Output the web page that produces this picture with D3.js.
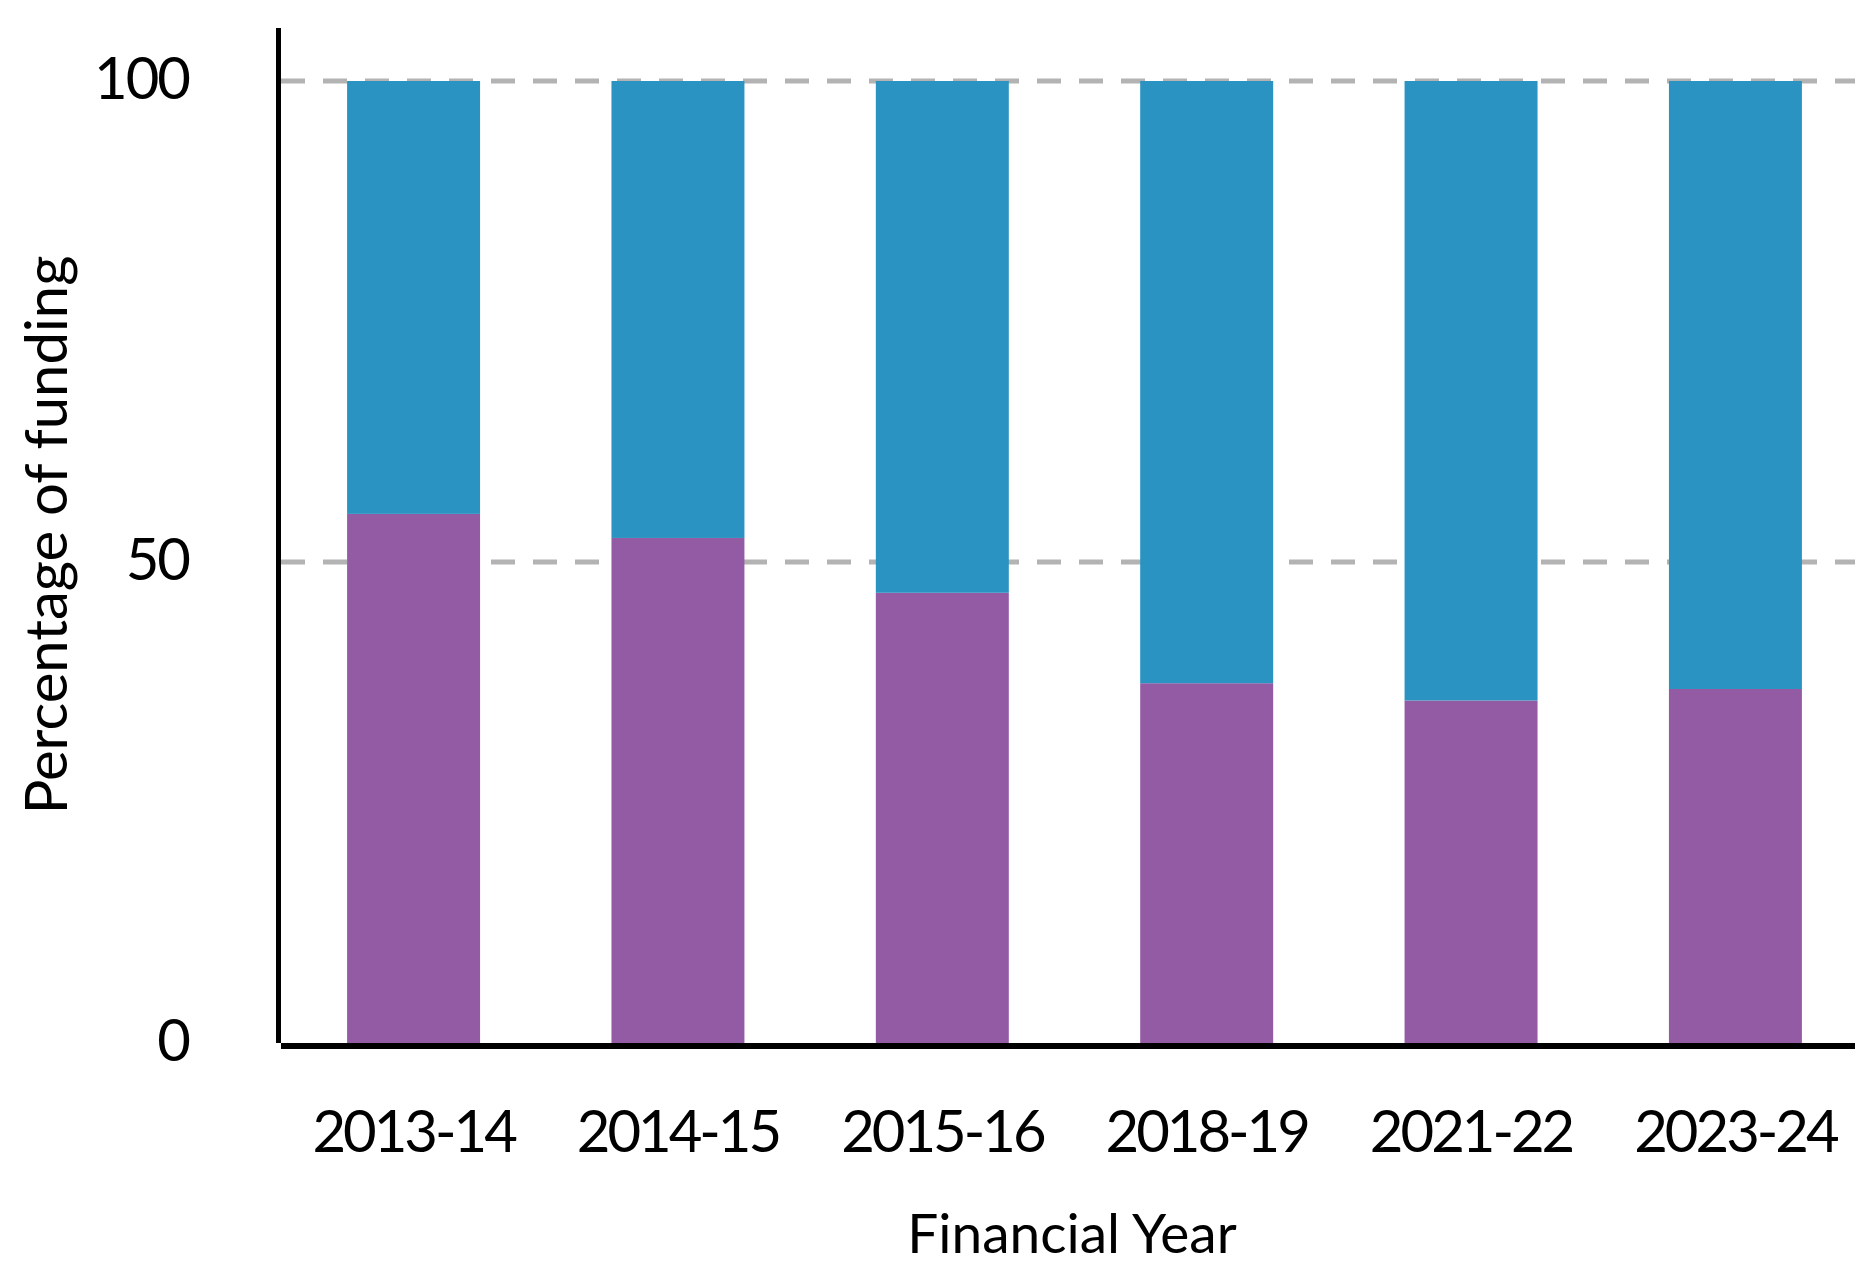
<!DOCTYPE html>
<html>
<head>
<meta charset="utf-8">
<script src="https://cdn.jsdelivr.net/npm/d3@7"></script>
<style>
  body { margin: 0; background: #fff; }
  text { font-family: Lato, "Open Sans", sans-serif; fill: #000; }
</style>
</head>
<body>
<script>
// financial years on the x axis
let years = ["2013-14", "2014-15", "2015-16", "2018-19", "2021-22", "2023-24"];
// bottom (purple) share and top (blue) share, percent
let purpleShare = [55.0, 52.5, 46.8, 37.4, 35.6, 36.8];
let blueShare = [45.0, 47.5, 53.2, 62.6, 64.4, 63.2];
let yTicks = [0, 50, 100];

var width = 1855, height = 1265;

var svg = d3.select("body").append("svg")
  .attr("width", width)
  .attr("height", height);

var x = d3.scaleBand()
  .domain(years)
  .range([281, 1868])
  .paddingInner(0.497)
  .paddingOuter(0.25);

var y = d3.scaleLinear().domain([0, 100]).range([1043, 81]);

// dashed gridlines (behind bars)
svg.append("g")
  .selectAll("line")
  .data(yTicks.filter(d => d > 0))
  .enter().append("line")
  .attr("x1", 281)
  .attr("x2", width)
  .attr("y1", d => y(d))
  .attr("y2", d => y(d))
  .style("stroke", "#b3b3b3")
  .style("stroke-width", 5)
  .style("stroke-dasharray", "24,18");

// stacked bars
var rows = years.map((yr, i) => ({ year: yr, purple: purpleShare[i], blue: blueShare[i] }));
var stack = d3.stack().keys(["purple", "blue"])(rows);
var colors = { purple: "#945ba5", blue: "#2a93c1" };

svg.append("g")
  .selectAll("g")
  .data(stack)
  .enter().append("g")
  .style("fill", d => colors[d.key])
  .selectAll("rect")
  .data(d => d)
  .enter().append("rect")
  .attr("x", d => x(d.data.year))
  .attr("width", x.bandwidth())
  .attr("y", d => y(d[1]))
  .attr("height", d => y(d[0]) - y(d[1]));

// axes
var yAxis = svg.append("g")
  .attr("transform", "translate(278,0)")
  .call(d3.axisLeft(y).tickValues(yTicks).tickSize(0).tickPadding(89));
yAxis.select(".domain").remove();
yAxis.selectAll("text")
  .attr("dy", "0.3em")
  .style("font-family", "Lato, sans-serif")
  .style("font-size", "58px")
  .style("letter-spacing", "-2px");

var xAxis = svg.append("g")
  .attr("transform", "translate(0,1043)")
  .call(d3.axisBottom(x).tickSize(0).tickPadding(68));
xAxis.select(".domain").remove();
xAxis.selectAll("text")
  .attr("dy", "0.71em")
  .style("font-family", "Lato, sans-serif")
  .style("font-size", "58px")
  .style("letter-spacing", "-3px");

// axis lines
svg.append("line")
  .attr("x1", 278.5).attr("x2", 278.5)
  .attr("y1", 28).attr("y2", 1043)
  .style("stroke", "#000")
  .style("stroke-width", 5);

svg.append("line")
  .attr("x1", 281).attr("x2", width)
  .attr("y1", 1046).attr("y2", 1046)
  .style("stroke", "#000")
  .style("stroke-width", 6);

// axis titles
svg.append("text")
  .attr("x", 1072)
  .attr("y", 1253)
  .style("text-anchor", "middle")
  .style("font-size", "55px")
  .text("Financial Year");

svg.append("text")
  .attr("transform", "translate(67,535) rotate(-90)")
  .style("text-anchor", "middle")
  .style("font-size", "58px")
  .text("Percentage of funding");
</script>
</body>
</html>
